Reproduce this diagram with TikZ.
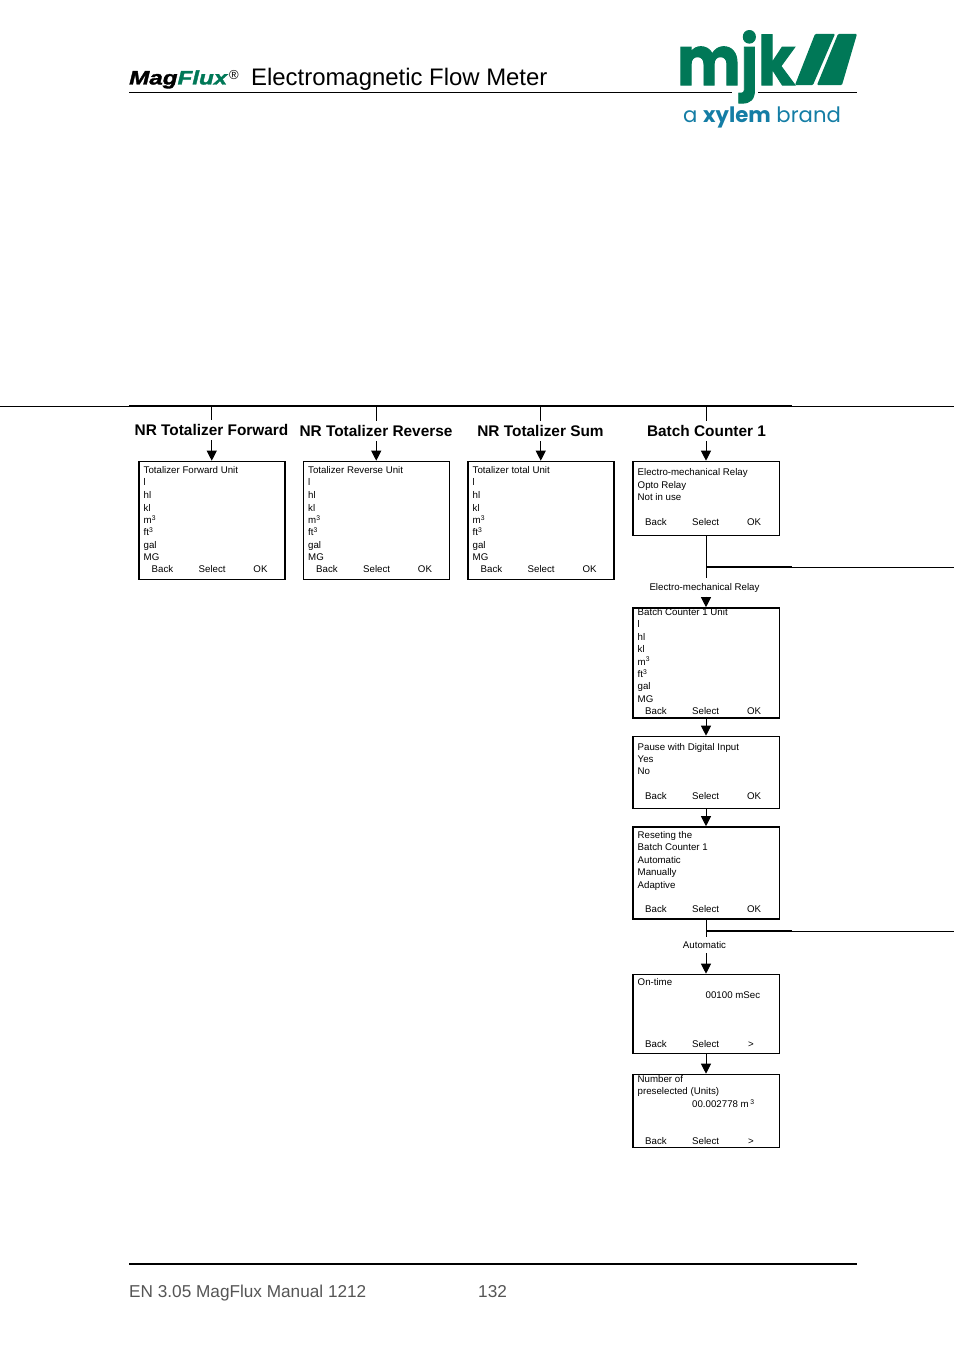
\documentclass[tikz,border=0pt]{standalone}
\usepackage{fontspec}
\setmainfont{Liberation Sans}
\newfontfamily\logofont{Poppins}
\newfontfamily\mjkfont[BoldFeatures={FakeBold=1.5}]{Poppins}
\newfontfamily\magfont[ItalicFeatures={FakeBold=1.5},BoldItalicFeatures={FakeBold=1.5}]{Liberation Sans}
\usetikzlibrary{arrows.meta}
\definecolor{mjkgreen}{RGB}{0,120,87}
\definecolor{xylemblue}{RGB}{20,125,165}
\definecolor{footgray}{RGB}{85,85,85}
\tikzset{
  flowarrow/.style={-{Triangle[length=10pt,width=10pt]},line width=1pt},
  flowline/.style={line width=1pt},
  screenbox/.style={draw,line width=1.5pt,anchor=north west,inner sep=0pt},
  screenline/.style={anchor=base west,inner sep=0pt,yshift=-3.8pt,font=\fontsize{9.7}{9.7}\selectfont},
  softkey/.style={anchor=base,inner sep=0pt,yshift=-3.8pt,font=\fontsize{9.7}{9.7}\selectfont},
  menutitle/.style={minimum height=20pt,inner sep=0pt,font=\fontsize{15.4}{15.4}\selectfont\bfseries},
  branchlabel/.style={inner sep=0pt,font=\fontsize{9.7}{9.7}\selectfont}
}
\newcommand{\softkeys}[4]{%
  \node[softkey] (#1back) at (#2+24,#3) {Back};
  \node[softkey] (#1select) at (#2+73.7,#3) {Select};
  \node[softkey] (#1right) at (#2+122,#3) {#4};
}
\begin{document}
\begin{tikzpicture}[x=1pt,y=-1pt]
  \useasboundingbox (0,0) rectangle (954,1354);

  % header
  \node[anchor=base west,inner sep=0pt,font=\fontsize{19.5}{19.5}\selectfont\magfont\bfseries\itshape] (magflux) at (129,84.5)
    {\scalebox{1.24}[1]{Mag\textcolor{mjkgreen}{Flux}}};
  \node[anchor=base west,inner sep=0pt,font=\fontsize{13}{13}\selectfont] (regmark) at (229,79) {®};
  \draw[line width=1pt] (129,92)--(732,92) (758,92)--(857,92);
  \node[anchor=base west,inner sep=0pt,font=\fontsize{23.9}{23.9}\selectfont] (title) at (251,85) {Electromagnetic Flow Meter};

  % logo
  \node[anchor=base west,inner sep=0pt,text=mjkgreen,font=\mjkfont\bfseries\fontsize{68}{68}\selectfont] (mjk) at (677,85) {\scalebox{0.88}[1]{mjk}};
  \fill[mjkgreen,rounded corners=1pt] (815,34)--(835,34)--(813,85)--(795,85)--cycle;
  \fill[mjkgreen,rounded corners=1pt] (838,34)--(857,34)--(842,85)--(817,85)--cycle;
  \node[anchor=base west,inner sep=0pt,text=xylemblue,font=\logofont\fontsize{21.2}{21.2}\selectfont] (xylem) at (683,122)
    {a \textbf{xylem} brand};

  % bus
  \coordinate (busL) at (0,406);
  \coordinate (busA) at (129,406);
  \coordinate (busB) at (792,406);
  \coordinate (busR) at (954,406);
  \draw[line width=0.6pt] (busL)--(busR);
  \draw[line width=1.6pt] (busA)--(busB);

  % the three totalizers
  \foreach \x/\nm/\ttl/\unit/\ly in {138.5/f/NR Totalizer Forward/Totalizer Forward Unit/430,
    303/r/NR Totalizer Reverse/Totalizer Reverse Unit/431,
    467.5/s/NR Totalizer Sum/Totalizer total Unit/431}
  {
    \node[screenbox,minimum width=146pt,minimum height=118pt] (box\nm) at (\x-0.5,460.7) {};
    \coordinate (bus\nm) at (box\nm.north |- busA);
    \node[menutitle] (title\nm) at (\x+73,\ly) {\ttl};
    \draw[flowline] (bus\nm)--(bus\nm |- title\nm.north);
    \draw[flowarrow] (bus\nm |- title\nm.south)--(box\nm.north);
    \foreach \y/\txt [count=\i] in {469.5/\unit,482/l,495/hl,507.5/kl,520/m\textsuperscript{3},532/ft\textsuperscript{3},545/gal,557/MG}
      \node[screenline] (\nm line\i) at (\x+5,\y) {\txt};
    \softkeys{\nm}{\x}{568.5}{OK}
  }

  % batch counter column
  \node[screenbox,minimum width=146.5pt,minimum height=74pt] (boxa) at (632,460.7) {};
  \node[screenbox,minimum width=146.5pt,minimum height=110pt] (boxb) at (632,607.2) {};
  \node[screenbox,minimum width=146.5pt,minimum height=72pt] (boxc) at (632,735.7) {};
  \node[screenbox,minimum width=146.5pt,minimum height=92pt] (boxd) at (632,826.2) {};
  \node[screenbox,minimum width=146.5pt,minimum height=79pt] (boxe) at (632,973.7) {};
  \node[screenbox,minimum width=146.5pt,minimum height=73pt] (boxg) at (632,1073.7) {};

  \foreach \y/\txt [count=\i] in {471.5/Electro-mechanical Relay,484.5/Opto Relay,496.5/Not in use}
    \node[screenline] (aline\i) at (637.5,\y) {\txt};
  \softkeys{a}{632}{521.5}{OK}
  \foreach \y/\txt [count=\i] in {611.5/Batch Counter 1 Unit,624/l,636.5/hl,649/kl,661.5/m\textsuperscript{3},674/ft\textsuperscript{3},686/gal,699/MG}
    \node[screenline] (bline\i) at (637.5,\y) {\txt};
  \softkeys{b}{632}{711}{OK}
  \foreach \y/\txt [count=\i] in {746.5/Pause with Digital Input,758.5/Yes,771/No}
    \node[screenline] (cline\i) at (637.5,\y) {\txt};
  \softkeys{c}{632}{796}{OK}
  \foreach \y/\txt [count=\i] in {834.5/Reseting the,846.5/Batch Counter 1,859.5/Automatic,872/Manually,884.5/Adaptive}
    \node[screenline] (dline\i) at (637.5,\y) {\txt};
  \softkeys{d}{632}{909}{OK}
  \node[screenline] (eline1) at (637.5,981.5) {On-time};
  \node[screenline] (eline2) at (705.5,995) {00100 mSec};
  \softkeys{e}{632}{1044}{\makebox[0pt]{\hspace{-6pt}>}}
  \node[screenline] (gline1) at (637.5,1079) {Number of};
  \node[screenline] (gline2) at (637.5,1091) {preselected (Units)};
  \node[screenline] (gline3) at (692,1104) {00.002778 m\,\textsuperscript{3}};
  \softkeys{g}{632}{1141}{\makebox[0pt]{\hspace{-6pt}>}}

  % batch counter links
  \coordinate (busa) at (boxa.north |- busA);
  \node[menutitle] (titlea) at (706.5,431) {Batch Counter 1};
  \draw[flowline] (busa)--(busa |- titlea.north);
  \draw[flowarrow] (busa |- titlea.south)--(boxa.north);
  \node[branchlabel,minimum height=18pt] (relay) at (704.5,587.5) {Electro-mechanical Relay};
  \coordinate (brancha) at (boxa.south |- 0,567);
  \coordinate (branchaM) at (792,567);
  \coordinate (branchaR) at (954,567);
  \draw[flowline] (boxa.south)--(boxa.south |- relay.north);
  \draw[line width=1.2pt] (brancha)--(branchaM);
  \draw[line width=0.6pt] (branchaM)--(branchaR);
  \draw[flowarrow] (boxa.south |- relay.south)--(boxb.north);
  \draw[flowarrow] (boxb.south)--(boxc.north);
  \draw[flowarrow] (boxc.south)--(boxd.north);
  \node[branchlabel,minimum height=16pt] (auto) at (704.5,945) {Automatic};
  \coordinate (branchd) at (boxd.south |- 0,931);
  \coordinate (branchdM) at (792,931);
  \coordinate (branchdR) at (954,931);
  \draw[flowline] (boxd.south)--(boxd.south |- auto.north);
  \draw[line width=1.2pt] (branchd)--(branchdM);
  \draw[line width=0.6pt] (branchdM)--(branchdR);
  \draw[flowarrow] (boxd.south |- auto.south)--(boxe.north);
  \draw[flowarrow] (boxe.south)--(boxg.north);

  % footer
  \draw[line width=1.6pt] (129,1264)--(857,1264);
  \node[anchor=base west,inner sep=0pt,text=footgray,font=\fontsize{17.2}{17.2}\selectfont] (manual) at (129,1297) {EN 3.05 MagFlux Manual 1212};
  \node[anchor=base west,inner sep=0pt,text=footgray,font=\fontsize{17.2}{17.2}\selectfont] (page) at (478,1297) {132};
\end{tikzpicture}
\end{document}
